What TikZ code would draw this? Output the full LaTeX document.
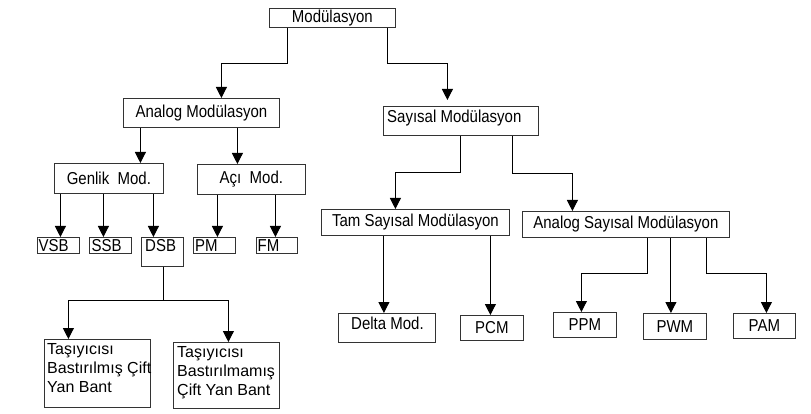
\documentclass[tikz,border=0pt]{standalone}
\usepackage{fontspec}
\usepackage{graphicx}
\setmainfont{Liberation Sans}
\usetikzlibrary{arrows.meta,calc}
\newcommand{\tx}[1]{\scalebox{1}[1.15]{#1}}
\begin{document}
\begin{tikzpicture}[x=1pt,y=-1pt,
  every node/.style={font=\fontsize{15}{18}\selectfont},
  box/.style={draw=black!80, line width=0.8pt, inner sep=0pt, anchor=north west},
  lbl/.style={anchor=north west, inner sep=0pt, align=left},
  small/.style={font=\fontsize{16}{19}\selectfont},
  conn/.style={draw=black, line width=1pt, -{Triangle[width=11pt,length=11pt]}},
  link/.style={draw=black, line width=1.6pt}]
\useasboundingbox (0,0) rectangle (811,414);

% boxes
\node[box, minimum width=126, minimum height=19] (mod) at (269,8) {\tx{Modülasyon}};
\node[box, minimum width=156, minimum height=29] (ana) at (123,98) {\tx{Analog Modülasyon}};
\node[box, minimum width=155, minimum height=29] (say) at (383,106) {};
\node[lbl] at ($(say.north west)+(4,3.5)$) {\tx{Sayısal Modülasyon}};

\node[box, minimum width=109, minimum height=30] (gen) at (54,163) {\tx{Genlik\ \ Mod.}};
\node[box, minimum width=108, minimum height=30] (aci) at (197,164) {\tx{Açı\ \ Mod.}};

\node[box, minimum width=42, minimum height=16] (vsb) at (37,237) {};
\node[lbl] at ($(vsb.north west)+(1.5,2.5)$) {\tx{VSB}};
\node[box, minimum width=42, minimum height=16] (ssb) at (89,237) {};
\node[lbl] at ($(ssb.north west)+(2.5,2.5)$) {\tx{SSB}};
\node[box, minimum width=42, minimum height=29] (dsb) at (141,237) {};
\node[lbl] at ($(dsb.north west)+(4,2.5)$) {\tx{DSB}};
\node[box, minimum width=42, minimum height=16] (pm) at (193,237) {};
\node[lbl] at ($(pm.north west)+(2,2.5)$) {\tx{PM}};
\node[box, minimum width=41, minimum height=16] (fm) at (256,237) {};
\node[lbl] at ($(fm.north west)+(1.5,2.5)$) {\tx{FM}};

\node[box, minimum width=106, minimum height=68] (t1) at (44,339) {};
\node[lbl, small] at ($(t1.north west)+(3,4.5)$) {Taşıyıcısı\\Bastırılmış Çift\\Yan Bant};
\node[box, minimum width=106, minimum height=66] (t2) at (173,342) {};
\node[lbl, small] at ($(t2.north west)+(4,4)$) {Taşıyıcısı\\Bastırılmamış\\Çift Yan Bant};

\node[box, minimum width=188, minimum height=26] (tam) at (321,209) {\tx{Tam Sayısal Modülasyon}};
\node[box, minimum width=207, minimum height=26] (asm) at (522,211) {\tx{Analog Sayısal Modülasyon}};

\node[box, minimum width=97, minimum height=29] (delta) at (338,313) {};
\node[lbl] at ($(delta.north west)+(13,4)$) {\tx{Delta Mod.}};
\node[box, minimum width=63, minimum height=25] (pcm) at (460,315) {\tx{PCM}};
\node[box, minimum width=63, minimum height=25] (ppm) at (553,312) {\tx{PPM}};
\node[box, minimum width=63, minimum height=26] (pwm) at (643,313) {\tx{PWM}};
\node[box, minimum width=62, minimum height=25] (pam) at (733,313) {\tx{PAM}};

% connectors
\draw[conn] ([xshift=-45pt]mod.south) -- ++(0,36) -| ([xshift=20pt]ana.north);
\draw[conn, shorten >=6pt] ([xshift=55pt]mod.south) -- ++(0,36) -| ([xshift=-13.5pt]say.north);

\draw[conn] ([xshift=-61pt]ana.south) -- ([xshift=-61pt]ana.south |- gen.north);
\draw[conn] ([xshift=36pt]ana.south) -- ([xshift=36pt]ana.south |- aci.north);

\draw[conn] ([xshift=2pt]vsb.north |- gen.south) -- ([xshift=2pt]vsb.north);
\draw[conn] ([xshift=-7pt]ssb.north |- gen.south) -- ([xshift=-7pt]ssb.north);
\draw[conn] ([xshift=-9pt]dsb.north |- gen.south) -- ([xshift=-9pt]dsb.north);
\draw[conn] ([xshift=3pt]pm.north |- aci.south) -- ([xshift=3pt]pm.north);
\draw[conn] ([xshift=-1.5pt]fm.north |- aci.south) -- ([xshift=-1.5pt]fm.north);

\draw[link] ([xshift=1pt]dsb.south) -- ++(0,34);
\draw[conn] ([xshift=1pt]dsb.south) ++(0,34) -| ([xshift=-29pt]t1.north);
\draw[conn] ([xshift=1pt]dsb.south) ++(0,34) -| ([xshift=2pt]t2.north);

\draw[conn] (say.south) -- ++(0,37) -| ([xshift=-20pt]tam.north);
\draw[conn] ([xshift=51.5pt]say.south) -- ++(0,38) -| ([xshift=-53.5pt]asm.north);

\draw[conn] ([xshift=-3pt]delta.north |- tam.south) -- ([xshift=-3pt]delta.north);
\draw[conn] ([xshift=-1.5pt]pcm.north |- tam.south) -- ([xshift=-1.5pt]pcm.north);

\draw[conn] ([xshift=21.5pt]asm.south) -- ++(0,36) -| ([xshift=-3.5pt]ppm.north);
\draw[conn] ([xshift=-4pt]pwm.north |- asm.south) -- ([xshift=-4pt]pwm.north);
\draw[conn] ([xshift=80.5pt]asm.south) -- ++(0,36) -| ([xshift=2pt]pam.north);
\end{tikzpicture}
\end{document}
